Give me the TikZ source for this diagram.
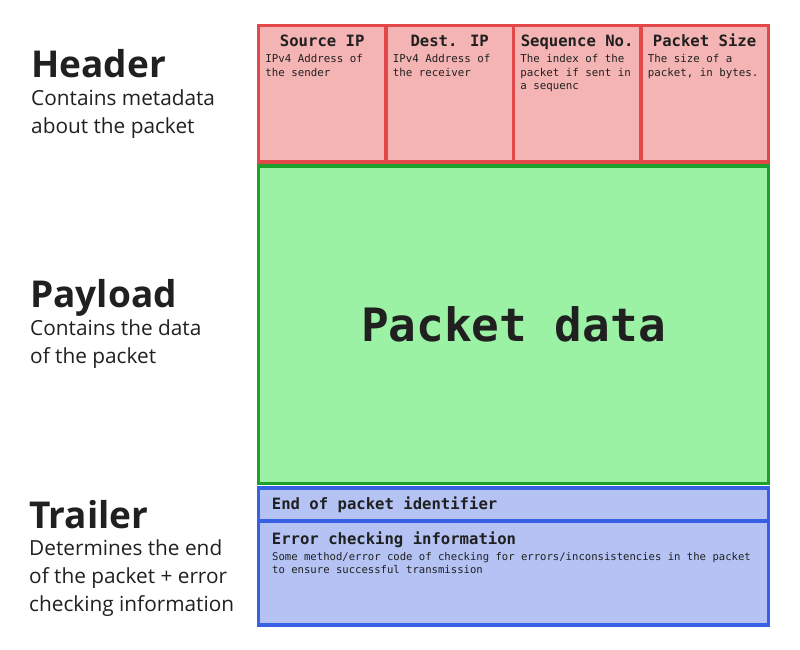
\documentclass[tikz,border=0pt]{standalone}
\usepackage{fontspec}
\setmainfont{Open Sans}
\newfontfamily\codefont{DejaVu Sans Mono}
\usetikzlibrary{positioning}
\usetikzlibrary{calc}
\definecolor{hdrline}{RGB}{226,72,74}
\definecolor{hdrfill}{RGB}{244,180,180}
\definecolor{payline}{RGB}{30,160,44}
\definecolor{payfill}{RGB}{156,242,164}
\definecolor{trlline}{RGB}{56,96,226}
\definecolor{trlfill}{RGB}{180,194,244}
\definecolor{ink}{RGB}{32,32,32}

\begin{document}
\begin{tikzpicture}
            [
                x=1pt, y=-1pt,
                hdrcell/.style={rectangle, draw=hdrline, fill=hdrfill, line width=3.3pt, minimum width=127.45pt, minimum height=136.7pt, inner sep=0pt, outer sep=0pt},
                paybox/.style={rectangle, draw=payline, fill=payfill, line width=3.3pt, minimum width=509.8pt, minimum height=317.5pt, inner sep=0pt, outer sep=0pt, text=ink, font=\codefont\bfseries\fontsize{46}{50}\selectfont},
                trlcell/.style={rectangle, draw=trlline, fill=trlfill, line width=3.3pt, minimum width=509.8pt, inner sep=0pt, outer sep=0pt},
                celltitle/.style={anchor=base, inner sep=0pt, text=ink, font=\codefont\bfseries\fontsize{15.6}{18}\selectfont},
                celldesc/.style={anchor=base west, inner sep=0pt, align=left, text=ink, font=\codefont\fontsize{10.8}{13.6}\selectfont},
                sectitle/.style={anchor=base west, inner sep=0pt, text=ink, font=\bfseries\fontsize{37}{40}\selectfont},
                secdesc/.style={anchor=base west, inner sep=0pt, align=left, text=ink, font=\fontsize{20.8}{28}\selectfont}
            ]
            \useasboundingbox (0,0) rectangle (800,650);
            %header (base of a wrapped text sits on its last line)
            \node[hdrcell, anchor=north west] at (258.5,25.3)  (src_ip)   {};
            \node[hdrcell, right=0pt of src_ip]              (dest_ip)  {};
            \node[hdrcell, right=0pt of dest_ip]             (seq_no)   {};
            \node[hdrcell, right=0pt of seq_no]              (pkt_size) {};
            \node[celltitle] at ($(src_ip.north)+(0,21.7)$)   (src_ip_t)   {Source IP};
            \node[celltitle] at ($(dest_ip.north)+(0,21.7)$)  (dest_ip_t)  {Dest. IP};
            \node[celltitle] at ($(seq_no.north)+(0,21.7)$)   (seq_no_t)   {Sequence No.};
            \node[celltitle] at ($(pkt_size.north)+(0,21.7)$) (pkt_size_t) {Packet Size};
            \node[celldesc] at ($(src_ip.north west)+(6.7,51)$)     (src_ip_d)   {IPv4 Address of\\the sender};
            \node[celldesc] at ($(dest_ip.north west)+(6.7,51)$)    (dest_ip_d)  {IPv4 Address of\\the receiver};
            \node[celldesc] at ($(seq_no.north west)+(6.7,64.6)$)   (seq_no_d)   {The index of the\\packet if sent in\\a sequenc};
            \node[celldesc] at ($(pkt_size.north west)+(6.7,51)$)   (pkt_size_d) {The size of a\\packet, in bytes.};
            %payload
            \node[paybox, anchor=north west] at (258.5,166) (payload) {Packet data};
            %trailer
            \node[trlcell, anchor=north west, minimum height=33pt] at (258.5,488) (end_id) {};
            \node[trlcell, below=0pt of end_id, minimum height=104pt]              (err_chk) {};
            \node[celltitle, anchor=base west] at ($(end_id.north west)+(13.2,21.3)$) (end_id_t) {End of packet identifier};
            \node[celltitle, anchor=base west] at ($(err_chk.north west)+(13.2,23)$)  (err_chk_t) {Error checking information};
            \node[celldesc, font=\codefont\fontsize{10.6}{13.4}\selectfont] at ($(err_chk.north west)+(13.5,52.4)$) (err_chk_d) {Some method/error code of checking for errors/inconsistencies in the packet\\to ensure successful transmission};
            %labels
            \node[sectitle] at (31,77.3)  (header_lbl)  {Header};
            \node[secdesc]  at (31,133.5) (header_dsc)  {Contains metadata\\about the packet};
            \node[sectitle] at (30,307)   (payload_lbl) {Payload};
            \node[secdesc]  at (30,363.5) (payload_dsc) {Contains the data\\of the packet};
            \node[sectitle] at (29,528.3) (trailer_lbl) {Trailer};
            \node[secdesc]  at (29,611.5) (trailer_dsc) {Determines the end\\of the packet + error\\checking information};
        \end{tikzpicture}
\end{document}
